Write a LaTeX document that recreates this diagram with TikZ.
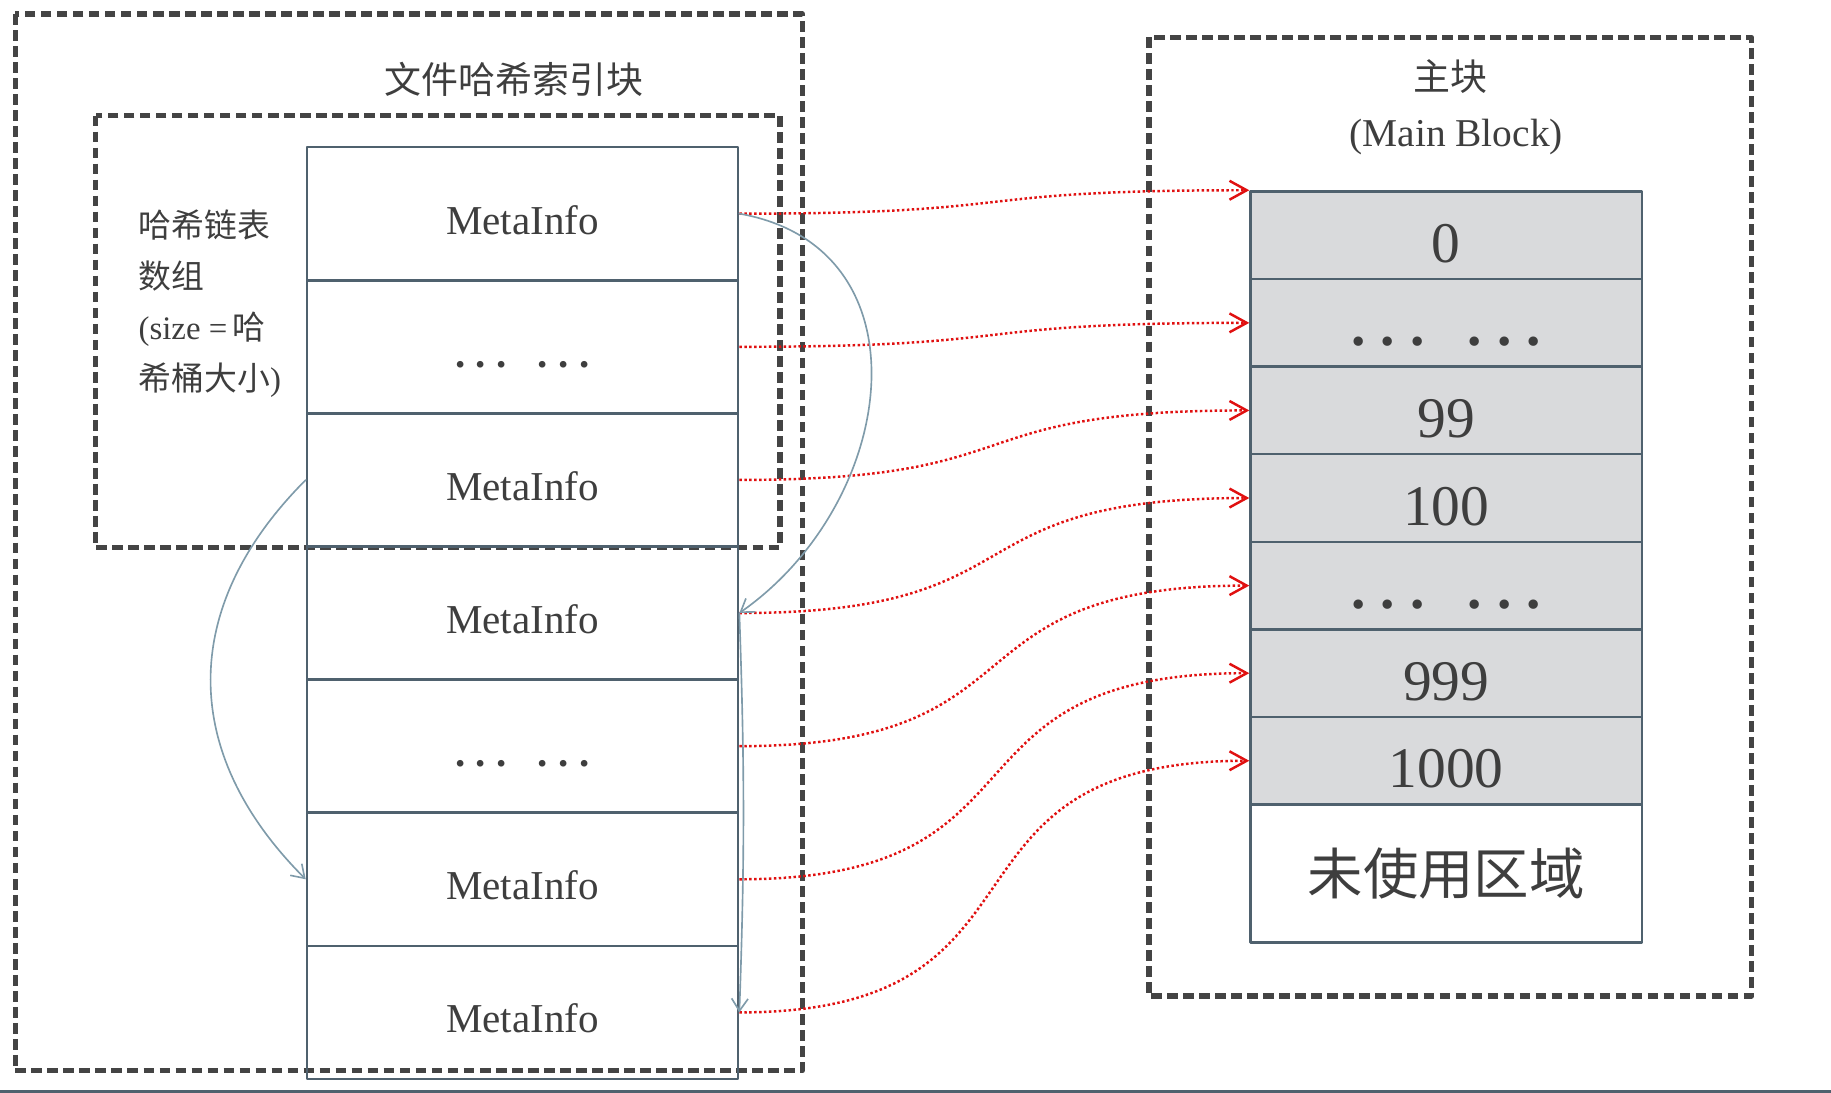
\documentclass[tikz,border=0pt]{standalone}
\usepackage{fontspec}
\setmainfont{Liberation Serif}
\newfontfamily\cjk{Noto Sans CJK SC}
\usetikzlibrary{arrows.meta}
\definecolor{cellline}{RGB}{79,97,110}
\definecolor{cellfill}{RGB}{217,218,220}
\definecolor{framegray}{RGB}{68,68,68}
\definecolor{txtgray}{RGB}{62,62,62}
\definecolor{linkgray}{RGB}{127,155,170}
\definecolor{ptrred}{RGB}{224,16,16}
\newcommand{\gapdots}{\textbf{.\hspace{0.26em}.\hspace{0.26em}.\hspace{0.75em}.\hspace{0.26em}.\hspace{0.26em}.}}
\tikzset{
    lab/.style={
        font=\fontsize{10}{12}\selectfont, text=txtgray
    }
}

\begin{document}
\begin{tikzpicture}[x=0.01cm,y=0.01cm, line cap=round, line join=round]

% background
\useasboundingbox (0,0) rectangle (1568,936);

\tikzset{
  frame/.style={draw=framegray, line width=1.3pt, line cap=butt, dash pattern=on 2.6pt off 1.3pt},
  meta/.style={rectangle, draw=cellline, line width=0.6pt, minimum width=3.69cm, minimum height=1.14cm, inner sep=0pt, text height=10pt, lab},
  blk/.style={rectangle, draw=cellline, fill=cellfill, line width=0.6pt, minimum width=3.35cm, minimum height=0.75cm, inner sep=0pt, font=\fontsize{14}{16}\selectfont, text=txtgray},
  num/.style={blk, text height=13.3pt},
  gap/.style={blk, text height=11.2pt},
  ptr/.style={draw=ptrred, line width=0.6pt, line cap=butt, dash pattern=on 0.6pt off 0.6pt, -{Straight Barb[length=4.2pt,width=4.6pt]}},
  link/.style={draw=linkgray, line width=0.4pt, -{Straight Barb[length=3pt,width=4pt]}},
  side/.style={font=\fontsize{8}{12.4}\selectfont, text=txtgray, align=left, inner sep=0pt},
}

% frames
\draw[frame] (13,924) rectangle (687,19);
\draw[frame] (82,837) rectangle (668,467);
\draw[frame] (984,904) rectangle (1500,83);

% titles
\node[lab, font=\fontsize{9}{11}\cjk] (idxtitle) at (440,868) {文件哈希索引块};
\node[lab, font=\fontsize{9}{11}\cjk] (maintitle) at (1242,870) {主块};
\node[lab, font=\fontsize{9.6}{11}\selectfont] (mainsub) at (1247,819) {(Main Block)};
\node[side, anchor=north west] (arrlab) at (118,757)
  {{\cjk 哈希链表}\\{\cjk 数组}\\(size =\,{\cjk 哈}\\{\cjk 希桶大小})};

% hash index cells
\node[meta] (l1) at (447.5,753) {MetaInfo};
\node[meta] (l2) at (447.5,639) {\gapdots};
\node[meta] (l3) at (447.5,525) {MetaInfo};
\node[meta] (l4) at (447.5,411) {MetaInfo};
\node[meta] (l5) at (447.5,297) {\gapdots};
\node[meta] (l6) at (447.5,183) {MetaInfo};
\node[meta] (l7) at (447.5,69) {MetaInfo};

% main block cells
\node[num] (r1) at (1238.5,734.5) {0};
\node[gap] (r2) at (1238.5,659.5) {\gapdots};
\node[num] (r3) at (1238.5,584.5) {99};
\node[num] (r4) at (1238.5,509.5) {100};
\node[gap] (r5) at (1238.5,434.5) {\gapdots};
\node[num] (r6) at (1238.5,359.5) {999};
\node[num] (r7) at (1238.5,284.5) {1000};
\node[blk, fill=white, minimum height=1.18cm, font=\fontsize{13.5}{16}\cjk] (r8) at (1238.5,188) {未使用区域};

% pointers into main block
\draw[ptr] (l1.east) to[out=0,in=180,looseness=1.5] (r1.north west);
\draw[ptr] (l2.east) to[out=0,in=180,looseness=1.5] (r2.west);
\draw[ptr] (l3.east) to[out=0,in=180,looseness=1.5] (r3.west);
\draw[ptr] (l4.east) to[out=0,in=180,looseness=1.5] (r4.west);
\draw[ptr] (l5.east) to[out=0,in=180,looseness=1.5] (r5.west);
\draw[ptr] (l6.east) to[out=0,in=180,looseness=1.5] (r6.west);
\draw[ptr] (l7.east) to[out=0,in=180,looseness=1.5] (r7.west);

% hash chain links
\draw[link] (l1.east) to[out=-10,in=35,looseness=1.25] (l4.east);
\draw[link] (l3.west) to[out=225,in=135,looseness=1.15] (l6.west);
\draw[link] (l4.east) to[out=-88,in=88] (l7.east);

% bottom rule
\draw[cellline, line width=0.8pt] (0,1.5) -- (1568,1.5);

\end{tikzpicture}
\end{document}
